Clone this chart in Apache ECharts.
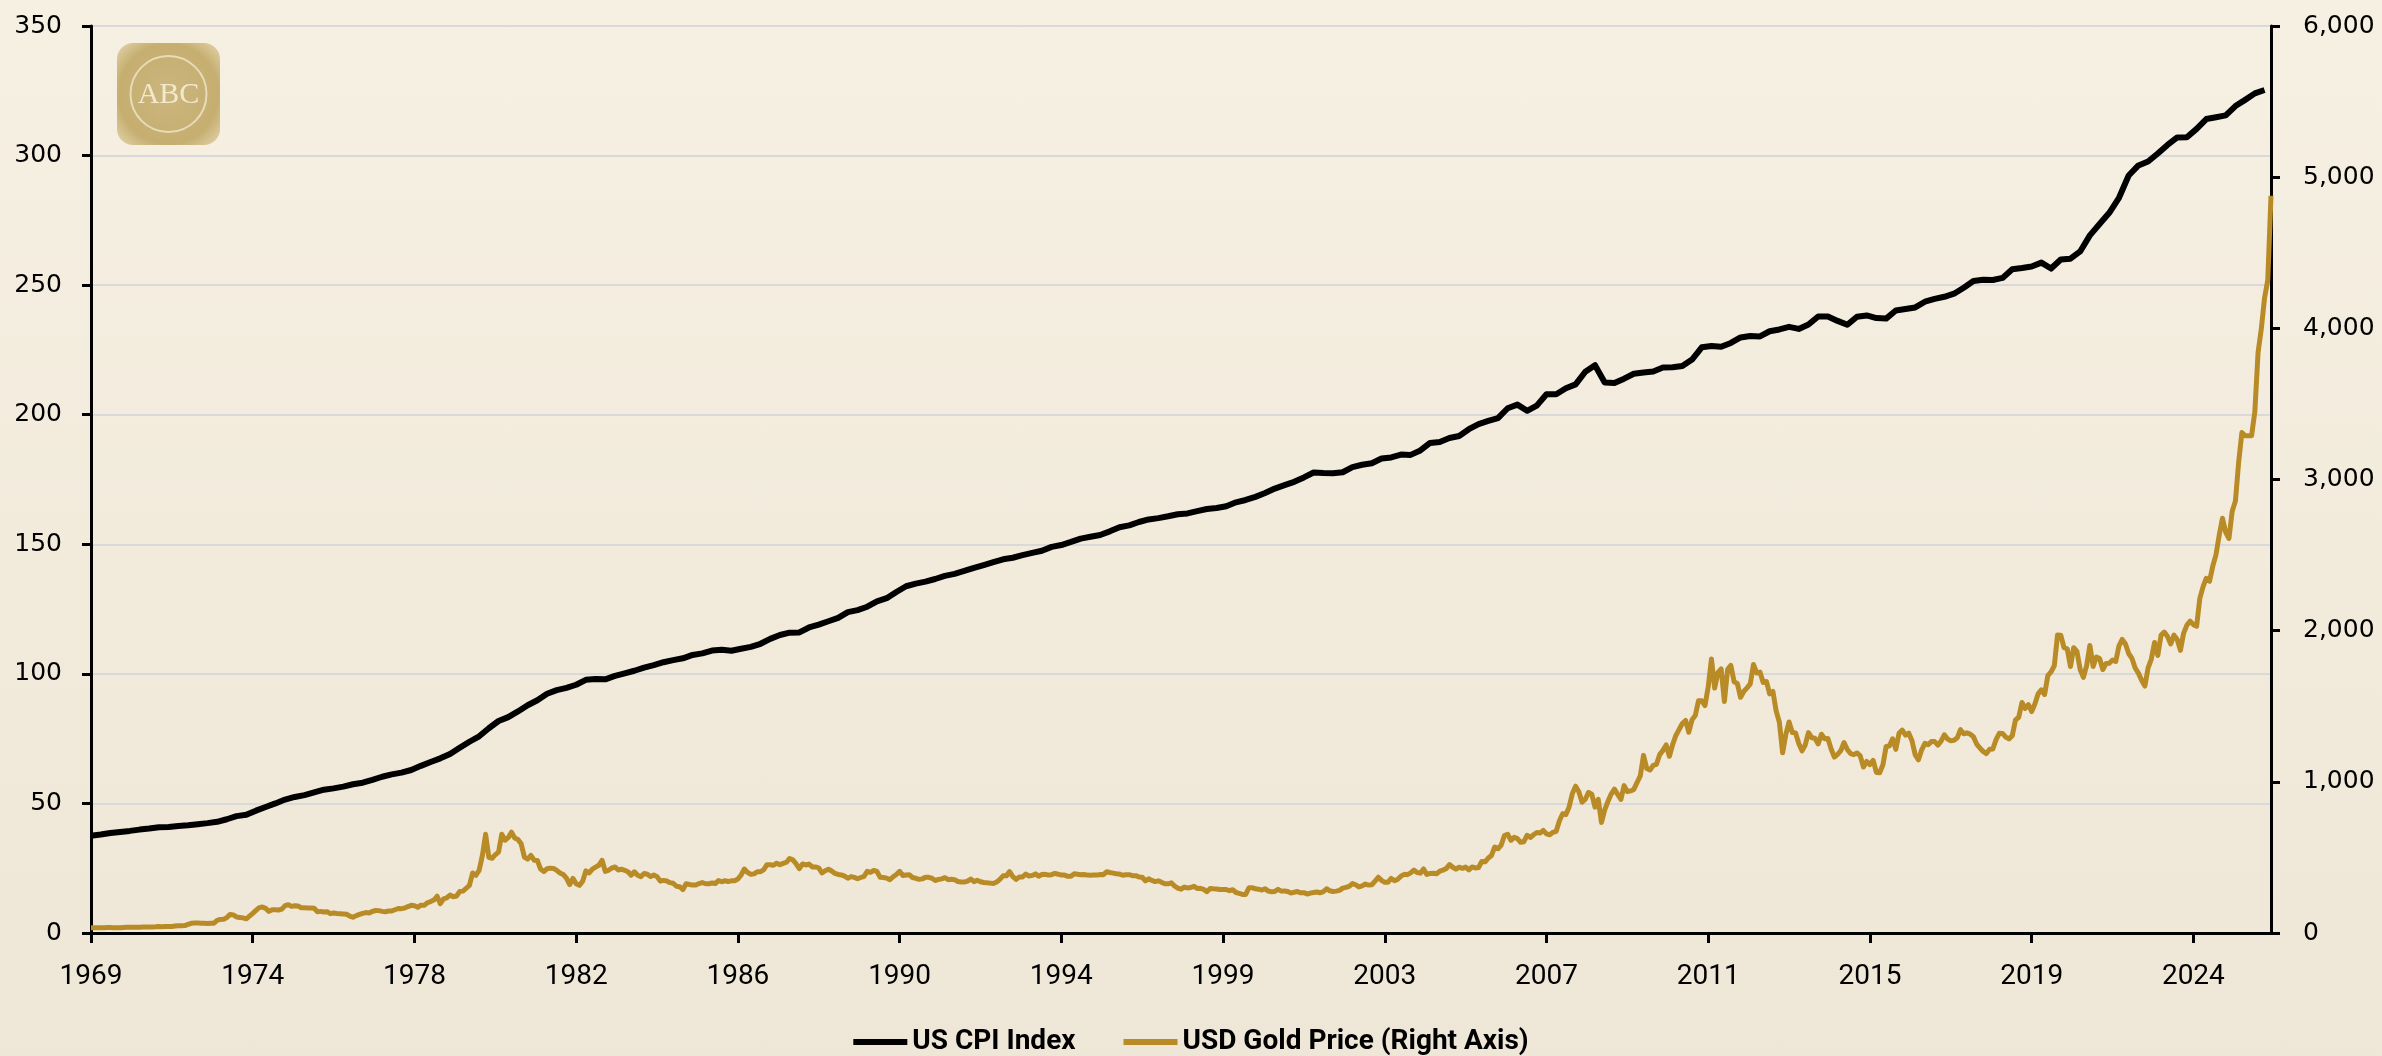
<!DOCTYPE html>
<html>
<head>
<meta charset="utf-8">
<title>US CPI Index vs USD Gold Price</title>
<script src="https://cdn.jsdelivr.net/npm/echarts@6/dist/echarts.min.js"></script>
<style>
    html, body { margin: 0; padding: 0; }
    #main {
        width: 2382px;
        height: 1056px;
        background: linear-gradient(to bottom, #f6f0e3 0%, #f2ebdc 55%, #eee6d6 100%);
    }
</style>
</head>
<body>
<div id="main"></div>
<script>
// x is a month count, 0 = Nov 1969; a label every 50 months
var monthsPerTick = 50;
var xTickLabels = ['1969', '1974', '1978', '1982', '1986', '1990', '1994', '1999', '2003', '2007', '2011', '2015', '2019', '2024'];

// US CPI index, every 3rd month (Nov 1969, then Feb / May / Aug / Nov each year)
var cpiQuarterly = [
    37.5,
    38.0, 38.6, 39.0, 39.4,      // 1970
    39.9, 40.3, 40.8, 40.9,      // 1971
    41.3, 41.6, 42.0, 42.4,      // 1972
    42.9, 43.9, 45.1, 45.6,      // 1973
    47.2, 48.6, 50.0, 51.5,      // 1974
    52.5, 53.2, 54.3, 55.3,      // 1975
    55.8, 56.5, 57.4, 58.0,      // 1976
    59.1, 60.3, 61.2, 61.9,      // 1977
    62.9, 64.5, 66.0, 67.4,      // 1978
    69.1, 71.5, 73.8, 75.9,      // 1979
    79.0, 81.8, 83.3, 85.5,      // 1980
    87.9, 89.8, 92.3, 93.7,      // 1981
    94.6, 95.8, 97.7, 98.0,      // 1982
    97.9, 99.2, 100.2, 101.2,    // 1983
    102.4, 103.4, 104.5, 105.3,  // 1984
    106.0, 107.3, 107.9, 109.0,  // 1985
    109.3, 108.9, 109.7, 110.4,  // 1986
    111.6, 113.5, 115.0, 115.9,  // 1987
    116.0, 117.9, 119.0, 120.3,  // 1988
    121.6, 123.8, 124.6, 125.9,  // 1989
    128.0, 129.2, 131.6, 133.8,  // 1990
    134.8, 135.6, 136.6, 137.8,  // 1991
    138.6, 139.7, 140.9, 142.0,  // 1992
    143.1, 144.2, 144.8, 145.8,  // 1993
    146.7, 147.5, 149.0, 149.7,  // 1994
    150.9, 152.2, 152.9, 153.6,  // 1995
    155.0, 156.6, 157.3, 158.6,  // 1996
    159.6, 160.1, 160.8, 161.6,  // 1997
    161.9, 162.8, 163.6, 164.0,  // 1998
    164.7, 166.2, 167.1, 168.3,  // 1999
    169.8, 171.5, 172.8, 174.1,  // 2000
    175.8, 177.7, 177.5, 177.4,  // 2001
    177.8, 179.8, 180.7, 181.3,  // 2002
    183.1, 183.5, 184.6, 184.5,  // 2003
    186.2, 189.1, 189.5, 191.0,  // 2004
    191.8, 194.4, 196.4, 197.6,  // 2005
    198.7, 202.5, 203.9, 201.5,  // 2006
    203.5, 207.9, 207.9, 210.2,  // 2007
    211.7, 216.6, 219.1, 212.4,  // 2008
    212.2, 213.9, 215.8, 216.3,  // 2009
    216.7, 218.2, 218.3, 218.8,  // 2010
    221.3, 226.0, 226.5, 226.2,  // 2011
    227.7, 229.8, 230.4, 230.2,  // 2012
    232.2, 232.9, 233.9, 233.1,  // 2013
    234.8, 237.9, 237.9, 236.2,  // 2014
    234.7, 237.8, 238.3, 237.3,  // 2015
    237.1, 240.2, 240.8, 241.4,  // 2016
    243.6, 244.7, 245.5, 246.7,  // 2017
    249.0, 251.6, 252.1, 252.0,  // 2018
    252.8, 256.1, 256.6, 257.2,  // 2019
    258.7, 256.4, 259.9, 260.2,  // 2020
    263.0, 269.2, 273.6, 277.9,  // 2021
    283.7, 292.3, 296.2, 297.7,  // 2022
    300.8, 304.1, 307.0, 307.1,  // 2023
    310.3, 314.1, 314.8, 315.5,  // 2024
    319.1, 321.5, 324.0, 325.3   // 2025
];

// USD gold price, month end, Nov 1969 .. Jan 2026
var goldMonthEnd = [
    35.2, 35.2,                                                                // 1969
    34.9, 35.0, 35.2, 35.8, 36.0, 35.4, 35.3, 35.4, 36.4, 37.5, 37.4, 37.4,    // 1970
    38.0, 38.7, 38.9, 39.0, 40.5, 40.1, 41.0, 42.7, 42.0, 42.5, 42.9, 43.6,    // 1971
    46.0, 48.3, 48.3, 49.0, 56.5, 63.9, 65.7, 67.0, 64.9, 64.9, 62.9, 64.9,    // 1972
    65.1, 84.0, 90.0, 90.5, 102, 123, 120, 106, 103, 100, 94, 112,             // 1973
    130, 150, 168, 172, 163, 143, 154, 154, 152, 158, 181, 187,                // 1974
    176, 180, 178, 167, 167, 166, 165, 163, 141, 143, 139, 141,                // 1975
    128, 132, 129, 128, 126, 124, 112, 104, 115, 123, 130, 135,                // 1976
    133, 143, 149, 148, 143, 141, 145, 146, 154, 162, 161, 165,                // 1977
    175, 183, 181, 170, 184, 183, 200, 208, 218, 243, 194, 226,                // 1978
    233, 251, 240, 245, 275, 277, 296, 315, 397, 382, 415, 512,                // 1979
    653, 500, 494, 518, 535, 653, 614, 631, 667, 629, 619, 590,                // 1980
    502, 489, 514, 482, 480, 423, 407, 425, 429, 427, 414, 397,                // 1981
    387, 363, 320, 361, 326, 315, 342, 411, 397, 423, 436, 448,                // 1982
    481, 408, 415, 429, 437, 417, 422, 415, 405, 382, 405, 382,                // 1983
    373, 394, 389, 373, 384, 373, 343, 348, 344, 333, 329, 309,                // 1984
    306, 287, 326, 321, 317, 317, 327, 334, 326, 326, 331, 327,                // 1985
    347, 339, 346, 341, 345, 346, 357, 384, 423, 401, 388, 391,                // 1986
    405, 405, 419, 452, 451, 448, 462, 452, 460, 468, 493, 484,                // 1987
    458, 426, 457, 450, 456, 437, 437, 431, 397, 412, 422, 410,                // 1988
    394, 387, 384, 376, 362, 373, 368, 359, 367, 375, 408, 401,                // 1989
    414, 407, 368, 367, 363, 352, 372, 387, 408, 380, 384, 386,                // 1990
    367, 362, 355, 358, 368, 368, 362, 347, 354, 358, 366, 353,                // 1991
    355, 353, 341, 337, 337, 343, 357, 340, 349, 339, 334, 333,                // 1992
    330, 327, 337, 355, 378, 378, 406, 373, 355, 370, 371, 390,                // 1993
    377, 381, 391, 376, 387, 388, 384, 386, 394, 389, 383, 383,                // 1994
    375, 376, 392, 389, 385, 387, 383, 382, 384, 383, 387, 386,                // 1995
    405, 400, 396, 392, 390, 382, 385, 386, 379, 379, 371, 369,                // 1996
    345, 358, 348, 340, 345, 335, 326, 325, 332, 311, 297, 290,                // 1997
    304, 298, 301, 309, 294, 296, 289, 273, 294, 292, 291, 288,                // 1998
    287, 287, 280, 286, 268, 262, 255, 255, 299, 300, 292, 290,                // 1999
    284, 293, 277, 273, 275, 289, 277, 278, 274, 264, 270, 274,                // 2000
    266, 267, 258, 264, 268, 271, 266, 273, 293, 279, 275, 277,                // 2001
    282, 297, 302, 309, 327, 319, 305, 312, 324, 317, 319, 343,                // 2002
    369, 348, 335, 336, 361, 346, 355, 376, 388, 386, 398, 416,                // 2003
    400, 396, 424, 387, 394, 395, 392, 409, 416, 426, 453, 435,                // 2004
    422, 435, 428, 436, 417, 437, 430, 433, 473, 471, 496, 513,                // 2005
    569, 557, 582, 644, 653, 613, 633, 624, 600, 604, 646, 632,                // 2006
    650, 665, 662, 679, 656, 650, 666, 673, 743, 789, 783, 834,                // 2007
    923, 971, 934, 865, 885, 930, 918, 833, 884, 731, 815, 870,                // 2008
    919, 952, 917, 884, 975, 935, 940, 950, 996, 1040, 1175, 1088,             // 2009
    1078, 1109, 1116, 1180, 1208, 1244, 1169, 1246, 1307, 1346, 1386, 1406,    // 2010
    1328, 1411, 1439, 1536, 1536, 1505, 1628, 1813, 1620, 1722, 1747, 1531,    // 2011
    1744, 1770, 1662, 1651, 1559, 1598, 1622, 1648, 1776, 1720, 1726, 1657,    // 2012
    1664, 1582, 1598, 1469, 1394, 1192, 1314, 1396, 1327, 1324, 1253, 1205,    // 2013
    1244, 1326, 1292, 1288, 1251, 1315, 1285, 1286, 1217, 1164, 1182, 1206,    // 2014
    1260, 1214, 1187, 1180, 1191, 1172, 1098, 1135, 1114, 1142, 1062, 1060,    // 2015
    1111, 1234, 1237, 1285, 1215, 1321, 1342, 1309, 1322, 1272, 1178, 1146,    // 2016
    1212, 1255, 1245, 1266, 1266, 1243, 1269, 1311, 1283, 1271, 1275, 1291,    // 2017
    1345, 1318, 1324, 1316, 1298, 1250, 1224, 1201, 1187, 1215, 1217, 1279,    // 2018
    1321, 1320, 1296, 1284, 1305, 1409, 1427, 1525, 1485, 1511, 1465, 1515,    // 2019
    1582, 1609, 1578, 1702, 1727, 1768, 1971, 1970, 1887, 1880, 1763, 1887,    // 2020
    1863, 1743, 1691, 1769, 1902, 1763, 1826, 1816, 1743, 1783, 1785, 1806,    // 2021
    1796, 1900, 1942, 1912, 1849, 1817, 1753, 1719, 1672, 1633, 1754, 1812,    // 2022
    1922, 1836, 1969, 1991, 1962, 1912, 1970, 1942, 1870, 1984, 2037, 2063,    // 2023
    2040, 2030, 2214, 2291, 2347, 2327, 2427, 2503, 2634, 2744, 2650, 2610,    // 2024
    2790, 2858, 3115, 3311, 3290, 3290, 3290, 3448, 3840, 3996, 4200, 4320,    // 2025
    4877                                                                       // 2026
];

var cpiData = cpiQuarterly.map(function(v, i) { return [i * 3, v]; });
var goldData = goldMonthEnd.map(function(v, i) { return [i, v]; });
var lastMonth = goldMonthEnd.length - 1;
var tickValues = xTickLabels.map(function(l, i) { return i * monthsPerTick; });

var myChart = echarts.init(document.getElementById('main'), null, { renderer: 'canvas' });

var axisBlack = { color: '#000000', width: 3 };

var option = {
    backgroundColor: 'transparent',
    animation: false,
    grid: {
        left: 91,
        right: 111,
        top: 26,
        bottom: 123,
        containLabel: false,
        outerBoundsMode: 'none'
    },
    legend: {
        top: 1023,
        left: 'center',
        icon: 'rect',
        itemWidth: 54,
        itemHeight: 6,
        itemGap: 48,
        textStyle: {
            fontFamily: 'Roboto',
            fontWeight: 'bold',
            fontSize: 28,
            color: '#000000'
        },
        data: ['US CPI Index', 'USD Gold Price (Right Axis)']
    },
    xAxis: {
        type: 'value',
        min: 0,
        max: lastMonth,
        splitLine: { show: false },
        axisLine: { lineStyle: axisBlack },
        axisTick: { customValues: tickValues, length: 10, lineStyle: axisBlack },
        axisLabel: {
            customValues: tickValues,
            formatter: function(v) { return xTickLabels[Math.round(v / monthsPerTick)] || ''; },
            fontFamily: 'Roboto',
            fontSize: 28,
            color: '#000000',
            margin: 30
        }
    },
    yAxis: [{
        type: 'value',
        position: 'left',
        min: 0,
        max: 350,
        interval: 50,
        axisLine: { show: true, lineStyle: axisBlack },
        axisTick: { show: true, length: 9, lineStyle: axisBlack },
        splitLine: { show: true, lineStyle: { color: '#d9d9d9', width: 2 } },
        axisLabel: { fontFamily: 'DejaVu Sans', fontSize: 25, color: '#000000', margin: 29 }
    }, {
        type: 'value',
        position: 'right',
        min: 0,
        max: 6000,
        interval: 1000,
        axisLine: { show: true, lineStyle: axisBlack },
        axisTick: { show: true, length: 9, lineStyle: axisBlack },
        splitLine: { show: false },
        axisLabel: {
            formatter: function(v) { return v.toLocaleString('en-US'); },
            fontFamily: 'DejaVu Sans',
            fontSize: 25,
            color: '#000000',
            margin: 32
        }
    }],
    series: [{
        name: 'US CPI Index',
        type: 'line',
        yAxisIndex: 0,
        showSymbol: false,
        symbol: 'none',
        color: '#000000',
        lineStyle: { color: '#000000', width: 6, join: 'round' },
        data: cpiData
    }, {
        name: 'USD Gold Price (Right Axis)',
        type: 'line',
        yAxisIndex: 1,
        showSymbol: false,
        symbol: 'none',
        color: '#b98b26',
        lineStyle: { color: '#b98b26', width: 5, join: 'round' },
        data: goldData
    }],
    // ABC badge in the top-left corner
    graphic: [{
        type: 'group',
        left: 117,
        top: 43,
        children: [{
            type: 'rect',
            shape: { x: 0, y: 0, width: 103, height: 102, r: 16 },
            style: {
                fill: new echarts.graphic.RadialGradient(0.5, 0.5, 0.7, [
                    { offset: 0, color: '#cbb67e' },
                    { offset: 0.7, color: '#c6ae70' },
                    { offset: 1, color: '#e2d5ac' }
                ])
            }
        }, {
            type: 'circle',
            shape: { cx: 51.5, cy: 51, r: 38 },
            style: { fill: 'none', stroke: '#e7dcb8', lineWidth: 2 }
        }, {
            type: 'text',
            style: {
                text: 'ABC',
                x: 51.5,
                y: 52,
                align: 'center',
                verticalAlign: 'middle',
                font: '30px "Liberation Serif"',
                fill: '#f2e9cc'
            }
        }]
    }]
};

myChart.setOption(option);
</script>
</body>
</html>
